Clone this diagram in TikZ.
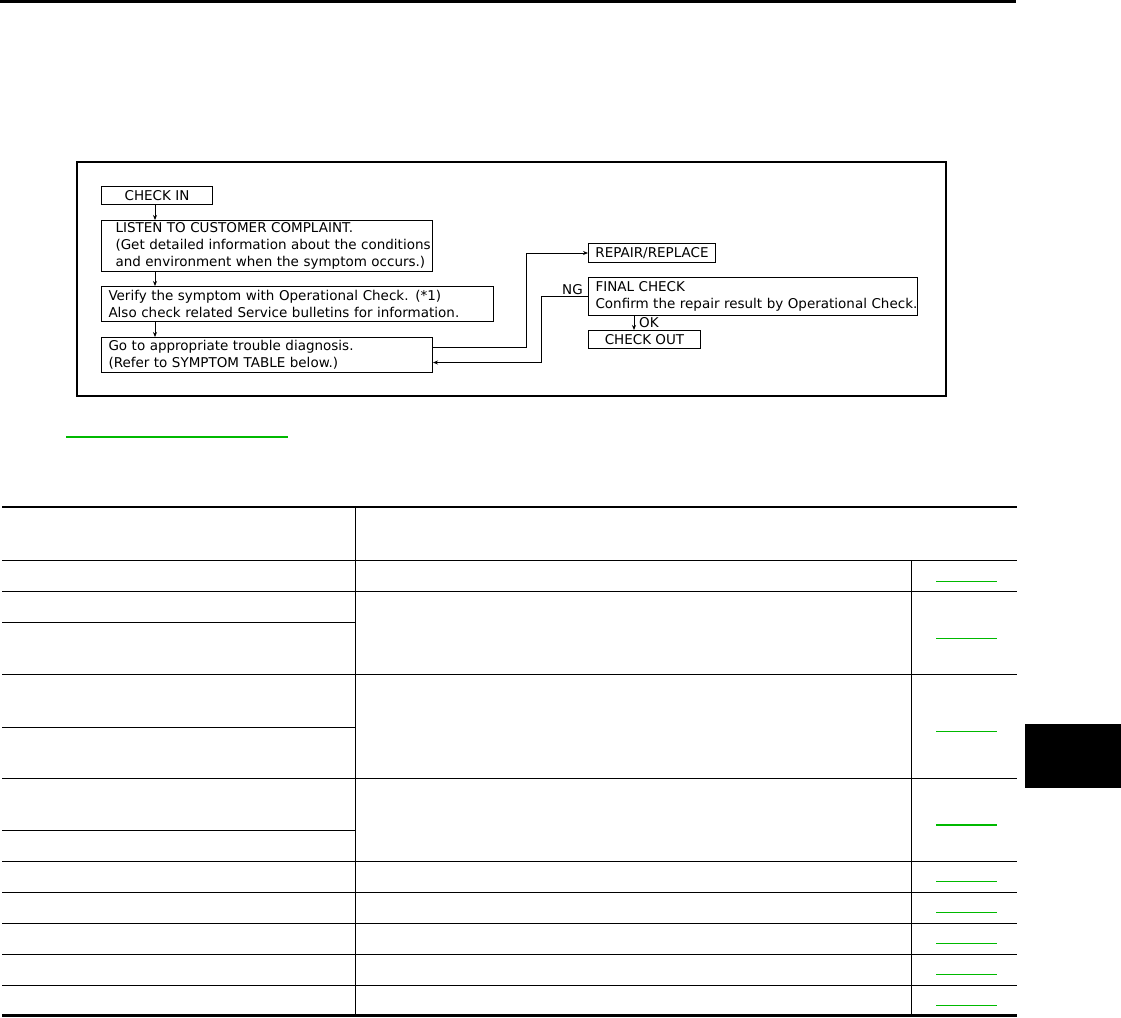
\documentclass[tikz,border=0pt]{standalone}
\usepackage{fontspec}
\setmainfont{DejaVu Sans}
\usetikzlibrary{arrows.meta,positioning,calc}
\definecolor{linkgreen}{RGB}{0,185,0}
\newcommand\flowline[1]{\mbox{#1}}
\tikzset{
  flowbox/.style={draw, line width=1pt, anchor=north west, align=left,
    inner ysep=0pt, font=\fontsize{13.5}{17}\selectfont},
  flowlabel/.style={inner sep=1pt, font=\fontsize{13.5}{17}\selectfont},
  flowarrow/.style={-{Stealth[length=5pt,width=4pt]}, line width=0.9pt},
  tablerule/.style={line width=1pt},
  linkline/.style={linkgreen, line width=1pt}
}

\begin{document}
\begin{tikzpicture}[x=1pt, y=-1pt]
    \useasboundingbox (0,0) rectangle (1121,1017);
    % page rule and tab
    \fill (0,0) rectangle (1016,3);
    \fill (1025,724) rectangle (1121,788);
    % flow chart frame
    \draw[line width=2pt] (77,162) rectangle (946,396);
    \node[flowbox, minimum width=111pt, minimum height=18pt, align=center] (checkin) at (101,186) {CHECK IN};
    \node[flowbox, text width=303pt, inner xsep=14pt, minimum height=51pt] (listen) at (101,220)
      {\flowline{LISTEN TO CUSTOMER COMPLAINT.}\\
       \flowline{(Get detailed information about the conditions}\\
       \flowline{and environment when the symptom occurs.)}};
    \node[flowbox, text width=378pt, inner xsep=7pt, minimum height=35pt] (verify) at (101,286)
      {\flowline{Verify the symptom with Operational Check. (*1)}\\
       \flowline{Also check related Service bulletins for information.}};
    \node[flowbox, text width=317pt, inner xsep=7pt, minimum height=35pt] (goto) at (101,337)
      {\flowline{Go to appropriate trouble diagnosis.}\\
       \flowline{(Refer to SYMPTOM TABLE below.)}};
    \node[flowbox, minimum width=127pt, minimum height=19pt, align=center] (repair) at (588,243) {REPAIR/REPLACE};
    \node[flowbox, text width=315pt, inner xsep=7pt, minimum height=38pt] (final) at (588,277)
      {\flowline{FINAL CHECK}\\
       \flowline{Confirm the repair result by Operational Check.}};
    \node[flowbox, minimum width=112pt, minimum height=18pt, align=center] (checkout) at (588,330) {CHECK OUT};
    % connectors
    \draw[flowarrow] ([xshift=54pt]checkin.south west) -- ([xshift=54pt]listen.north west);
    \draw[flowarrow] ([xshift=54pt]listen.south west) -- ([xshift=54pt]verify.north west);
    \draw[flowarrow] ([xshift=54pt]verify.south west) -- ([xshift=54pt]goto.north west);
    \draw[flowarrow] ([yshift=7.5pt]goto.east) -- ++(93,0) |- (repair.west);
    \draw[flowarrow] (final.west) -- ++(-47,0) |- ([yshift=-7.5pt]goto.east);
    \draw[flowarrow] ([xshift=46pt]final.south west) -- ([xshift=46pt]checkout.north west);
    \node[flowlabel, anchor=south east] (ng) at ([xshift=-4pt,yshift=1pt]final.west) {NG};
    \node[flowlabel, anchor=west] (ok) at ([xshift=50pt,yshift=-7pt]final.south west) {OK};
    % link under the chart
    \draw[linkline, line width=1.3pt] (66,437) -- (288,437);
    % symptom table
    \draw[line width=2pt] (2,507) -- (1017,507);
    \draw[line width=3pt] (2,1015) -- (1017,1015);
    \foreach \y in {560,591,674,778,861,892,923,954,985}
      \draw[tablerule] (2,\y) -- (1017,\y);
    \foreach \y in {622,727,830}
      \draw[tablerule] (2,\y) -- (355,\y);
    \draw[tablerule] (355,507) -- (355,1014);
    \draw[tablerule] (911,560) -- (911,1014);
    \foreach \y in {581,638,731,881,912,943,974,1005}
      \draw[linkline] (936,\y) -- (997,\y);
    \draw[linkline, line width=2pt] (936,825) -- (997,825);
\end{tikzpicture}
\end{document}
